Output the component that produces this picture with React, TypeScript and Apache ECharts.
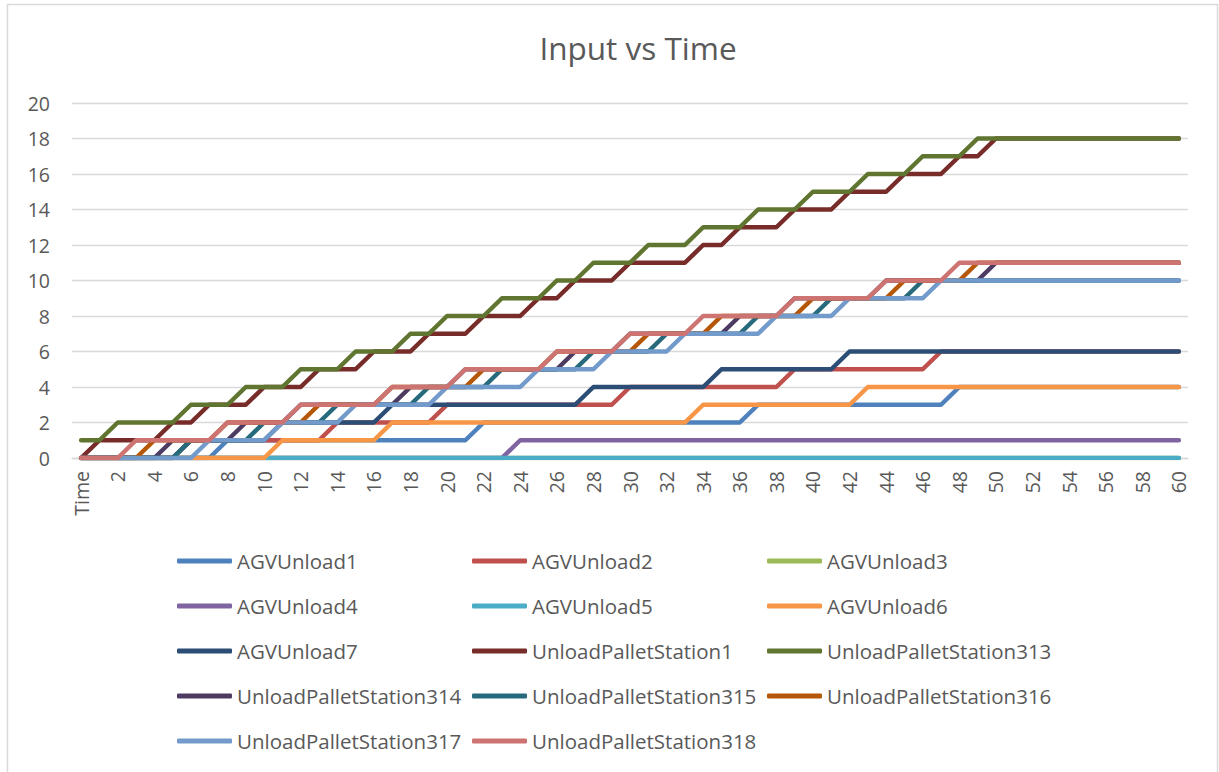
import React, { useEffect, useRef } from "react";
import * as echarts from "echarts";

const FONT = "'Open Sans', 'Noto Sans', sans-serif";
const TEXT_COLOR = "#595959";
const GRID_COLOR = "#D9D9D9";

// Category axis: header cell followed by time steps 1..60
const timeLabels = [
  "Time", "1", "2", "3", "4", "5", "6", "7", "8", "9", "10",
  "11", "12", "13", "14", "15", "16", "17", "18", "19", "20",
  "21", "22", "23", "24", "25", "26", "27", "28", "29", "30",
  "31", "32", "33", "34", "35", "36", "37", "38", "39", "40",
  "41", "42", "43", "44", "45", "46", "47", "48", "49", "50",
  "51", "52", "53", "54", "55", "56", "57", "58", "59", "60",
];

const yTicks = { min: 0, max: 20, interval: 2 };

// Cumulative input counts per station
const agvUnload1 = [
  0, 0, 0, 0, 0, 0, 0, 0, 1, 1,
  1, 1, 1, 1, 1, 1, 1, 1, 1, 1,
  1, 1, 2, 2, 2, 2, 2, 2, 2, 2,
  2, 2, 2, 2, 2, 2, 2, 3, 3, 3,
  3, 3, 3, 3, 3, 3, 3, 3, 4, 4,
  4, 4, 4, 4, 4, 4, 4, 4, 4, 4,
  4,
];
const agvUnload2 = [
  0, 0, 0, 0, 0, 0, 1, 1, 1, 1,
  1, 1, 1, 1, 2, 2, 2, 2, 2, 2,
  3, 3, 3, 3, 3, 3, 3, 3, 3, 3,
  4, 4, 4, 4, 4, 4, 4, 4, 4, 5,
  5, 5, 5, 5, 5, 5, 5, 6, 6, 6,
  6, 6, 6, 6, 6, 6, 6, 6, 6, 6,
  6,
];
const agvUnload3 = [
  0, 0, 0, 0, 0, 0, 0, 0, 0, 0,
  0, 0, 0, 0, 0, 0, 0, 0, 0, 0,
  0, 0, 0, 0, 0, 0, 0, 0, 0, 0,
  0, 0, 0, 0, 0, 0, 0, 0, 0, 0,
  0, 0, 0, 0, 0, 0, 0, 0, 0, 0,
  0, 0, 0, 0, 0, 0, 0, 0, 0, 0,
  0,
];
const agvUnload4 = [
  0, 0, 0, 0, 0, 0, 0, 0, 0, 0,
  0, 0, 0, 0, 0, 0, 0, 0, 0, 0,
  0, 0, 0, 0, 1, 1, 1, 1, 1, 1,
  1, 1, 1, 1, 1, 1, 1, 1, 1, 1,
  1, 1, 1, 1, 1, 1, 1, 1, 1, 1,
  1, 1, 1, 1, 1, 1, 1, 1, 1, 1,
  1,
];
const agvUnload5 = [
  0, 0, 0, 0, 0, 0, 0, 0, 0, 0,
  0, 0, 0, 0, 0, 0, 0, 0, 0, 0,
  0, 0, 0, 0, 0, 0, 0, 0, 0, 0,
  0, 0, 0, 0, 0, 0, 0, 0, 0, 0,
  0, 0, 0, 0, 0, 0, 0, 0, 0, 0,
  0, 0, 0, 0, 0, 0, 0, 0, 0, 0,
  0,
];
const agvUnload6 = [
  0, 0, 0, 0, 0, 0, 0, 0, 0, 0,
  0, 1, 1, 1, 1, 1, 1, 2, 2, 2,
  2, 2, 2, 2, 2, 2, 2, 2, 2, 2,
  2, 2, 2, 2, 3, 3, 3, 3, 3, 3,
  3, 3, 3, 4, 4, 4, 4, 4, 4, 4,
  4, 4, 4, 4, 4, 4, 4, 4, 4, 4,
  4,
];
const agvUnload7 = [
  0, 0, 0, 0, 0, 0, 1, 1, 1, 1,
  1, 2, 2, 2, 2, 2, 2, 3, 3, 3,
  3, 3, 3, 3, 3, 3, 3, 3, 4, 4,
  4, 4, 4, 4, 4, 5, 5, 5, 5, 5,
  5, 5, 6, 6, 6, 6, 6, 6, 6, 6,
  6, 6, 6, 6, 6, 6, 6, 6, 6, 6,
  6,
];
const palletStation1 = [
  0, 1, 1, 1, 1, 2, 2, 3, 3, 3,
  4, 4, 4, 5, 5, 5, 6, 6, 6, 7,
  7, 7, 8, 8, 8, 9, 9, 10, 10, 10,
  11, 11, 11, 11, 12, 12, 13, 13, 13, 14,
  14, 14, 15, 15, 15, 16, 16, 16, 17, 17,
  18, 18, 18, 18, 18, 18, 18, 18, 18, 18,
  18,
];
const palletStation313 = [
  1, 1, 2, 2, 2, 2, 3, 3, 3, 4,
  4, 4, 5, 5, 5, 6, 6, 6, 7, 7,
  8, 8, 8, 9, 9, 9, 10, 10, 11, 11,
  11, 12, 12, 12, 13, 13, 13, 14, 14, 14,
  15, 15, 15, 16, 16, 16, 17, 17, 17, 18,
  18, 18, 18, 18, 18, 18, 18, 18, 18, 18,
  18,
];
const palletStation314 = [
  0, 0, 0, 0, 0, 1, 1, 1, 1, 2,
  2, 2, 3, 3, 3, 3, 3, 3, 4, 4,
  4, 5, 5, 5, 5, 5, 5, 6, 6, 6,
  7, 7, 7, 7, 7, 7, 8, 8, 8, 9,
  9, 9, 9, 9, 10, 10, 10, 10, 10, 10,
  11, 11, 11, 11, 11, 11, 11, 11, 11, 11,
  11,
];
const palletStation315 = [
  0, 0, 0, 0, 0, 0, 1, 1, 1, 1,
  2, 2, 2, 2, 3, 3, 3, 3, 3, 4,
  4, 4, 4, 5, 5, 5, 5, 5, 6, 6,
  6, 6, 7, 7, 7, 7, 7, 8, 8, 8,
  8, 9, 9, 9, 9, 9, 10, 10, 10, 10,
  10, 10, 10, 10, 10, 10, 10, 10, 10, 10,
  10,
];
const palletStation316 = [
  0, 0, 0, 0, 1, 1, 1, 1, 2, 2,
  2, 2, 2, 3, 3, 3, 3, 4, 4, 4,
  4, 4, 5, 5, 5, 5, 6, 6, 6, 6,
  6, 7, 7, 7, 7, 8, 8, 8, 8, 8,
  9, 9, 9, 9, 9, 10, 10, 10, 10, 11,
  11, 11, 11, 11, 11, 11, 11, 11, 11, 11,
  11,
];
const palletStation317 = [
  0, 0, 0, 0, 0, 0, 0, 1, 1, 1,
  1, 2, 2, 2, 2, 3, 3, 3, 3, 3,
  4, 4, 4, 4, 4, 5, 5, 5, 5, 6,
  6, 6, 6, 7, 7, 7, 7, 7, 8, 8,
  8, 8, 9, 9, 9, 9, 9, 10, 10, 10,
  10, 10, 10, 10, 10, 10, 10, 10, 10, 10,
  10,
];
const palletStation318 = [
  0, 0, 0, 1, 1, 1, 1, 1, 2, 2,
  2, 2, 3, 3, 3, 3, 3, 4, 4, 4,
  4, 5, 5, 5, 5, 5, 6, 6, 6, 6,
  7, 7, 7, 7, 8, 8, 8, 8, 8, 9,
  9, 9, 9, 9, 10, 10, 10, 10, 11, 11,
  11, 11, 11, 11, 11, 11, 11, 11, 11, 11,
  11,
];

const seriesNames = [
  "AGVUnload1", "AGVUnload2", "AGVUnload3", "AGVUnload4", "AGVUnload5",
  "AGVUnload6", "AGVUnload7", "UnloadPalletStation1", "UnloadPalletStation313",
  "UnloadPalletStation314", "UnloadPalletStation315", "UnloadPalletStation316",
  "UnloadPalletStation317", "UnloadPalletStation318",
];
const seriesValues = [
  agvUnload1, agvUnload2, agvUnload3, agvUnload4, agvUnload5, agvUnload6,
  agvUnload7, palletStation1, palletStation313, palletStation314,
  palletStation315, palletStation316, palletStation317, palletStation318,
];
const seriesColors = [
  "#4F81BD", "#C0504D", "#9BBB59", "#8064A2", "#4BACC6", "#F79646",
  "#2C4D75", "#772C2A", "#5F7530", "#4D3B62", "#276A7C", "#B65708",
  "#729ACA", "#CD7371",
];

// Legend laid out in three columns
const legendColumns = [
  ["AGVUnload1", "AGVUnload4", "AGVUnload7", "UnloadPalletStation314", "UnloadPalletStation317"],
  ["AGVUnload2", "AGVUnload5", "UnloadPalletStation1", "UnloadPalletStation315", "UnloadPalletStation318"],
  ["AGVUnload3", "AGVUnload6", "UnloadPalletStation313", "UnloadPalletStation316"],
];
const legendLeft = [177, 472, 767];

export default function App() {
  const ref = useRef<HTMLDivElement>(null);

  useEffect(() => {
    if (!ref.current) return;
    const chart = echarts.init(ref.current, undefined, { renderer: "svg" });

    const series = seriesNames.map((name, i) => ({
      name,
      type: "line",
      data: seriesValues[i],
      color: seriesColors[i],
      showSymbol: false,
      symbol: "none",
      lineStyle: { width: 4.5, color: seriesColors[i], cap: "round", join: "round" },
      itemStyle: { color: seriesColors[i] },
      emphasis: { disabled: true },
    }));

    const legends = legendColumns.map((names, c) => ({
      orient: "vertical",
      left: legendLeft[c],
      top: 550,
      padding: 0,
      data: names,
      icon: "roundRect",
      itemWidth: 55,
      itemHeight: 5,
      itemGap: 23,
      selectedMode: false,
      textStyle: { color: TEXT_COLOR, fontSize: 20.5, fontFamily: FONT, lineHeight: 22 },
    }));

    chart.setOption({
      animation: false,
      backgroundColor: "#FFFFFF",
      grid: { left: 72, right: 31, top: 103, bottom: 314, containLabel: false },
      xAxis: {
        type: "category",
        data: timeLabels,
        boundaryGap: true,
        axisLine: { lineStyle: { color: GRID_COLOR, width: 1.3 } },
        axisTick: { show: false },
        axisLabel: {
          interval: 1,
          rotate: 90,
          margin: 13,
          color: TEXT_COLOR,
          fontSize: 19.5,
          fontFamily: FONT,
        },
        splitLine: { show: false },
      },
      yAxis: {
        type: "value",
        min: yTicks.min,
        max: yTicks.max,
        interval: yTicks.interval,
        axisLine: { show: false },
        axisTick: { show: false },
        axisLabel: { margin: 22, color: TEXT_COLOR, fontSize: 19.5, fontFamily: FONT },
        splitLine: { lineStyle: { color: GRID_COLOR, width: 1.3 } },
      },
      legend: legends,
      graphic: [
        {
          type: "rect",
          silent: true,
          shape: { x: 7.5, y: 4.5, width: 1210, height: 800 },
          style: { fill: "none", stroke: GRID_COLOR, lineWidth: 1.5 },
        },
        {
          type: "text",
          silent: true,
          x: 638,
          y: 47,
          style: {
            text: "Input vs Time",
            align: "center",
            verticalAlign: "middle",
            fontSize: 31.5,
            fontFamily: FONT,
            fill: TEXT_COLOR,
          },
        },
      ],
      series,
    });

    return () => chart.dispose();
  }, []);

  return (
    <div
      ref={ref}
      style={{ position: "absolute", left: 0, top: 0, width: 1219, height: 772, background: "#fff" }}
    />
  );
}
